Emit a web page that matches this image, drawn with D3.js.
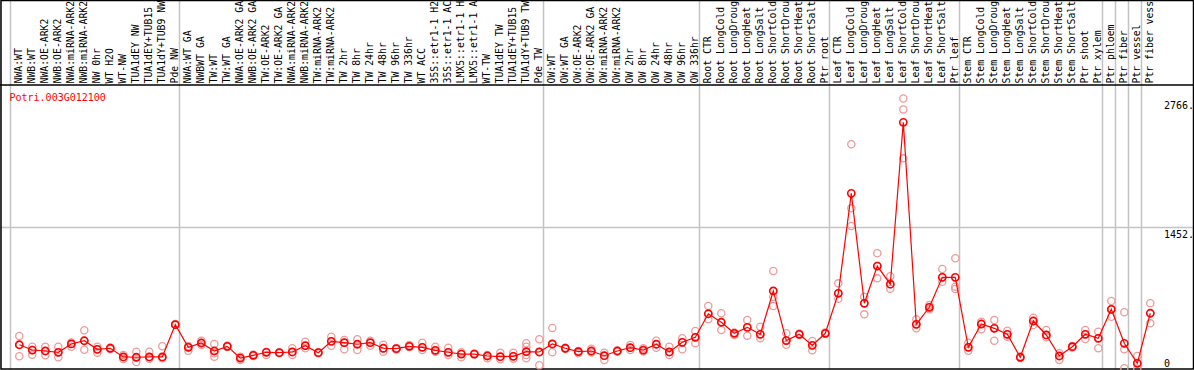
<!DOCTYPE html>
<html>
<head>
<meta charset="utf-8">
<script src="https://cdn.jsdelivr.net/npm/d3@7"></script>
<style>
  body { margin: 0; background: #fff; }
  svg { display: block; }
  text { font-family: "DejaVu Sans Mono", monospace; font-size: 10px; }
</style>
</head>
<body>
<div id="chart"></div>
<script>

// sample names, one per column
var samples = [
	"NWA:WT", "NWB:WT", "NWA:OE-ARK2", "NWB:OE-ARK2", "NWA:miRNA-ARK2", "NWB:miRNA-ARK2",
	"NW 0hr", "WT H2O", "WT-NW", "TUA1dEY NW", "TUA1dEY+TUB15 NW", "TUA1dY+TUB9 NW", "Pde NW",
	"NWA:WT GA", "NWBWT GA", "TW:WT", "TW:WT GA", "NWA:OE-ARK2 GA", "NWB:OE-ARK2 GA",
	"TW:OE-ARK2", "TW:OE-ARK2 GA", "NWA:miRNA-ARK2 GA", "NWB:miRNA-ARK2 GA", "TW:miRNA-ARK2",
	"TW:miRNA-ARK2 GA", "TW 2hr", "TW 8hr", "TW 24hr", "TW 48hr", "TW 96hr", "TW 336hr",
	"WT ACC", "35S::etr1-1 H2O", "35S::etr1-1 ACC", "LMX5::etr1-1 H2O", "LMX5::etr1-1 ACC",
	"WT-TW", "TUA1dEY TW", "TUA1dEY+TUB15 TW", "TUA1dY+TUB9 TW", "Pde TW",
	"OW:WT", "OW:WT GA", "OW:OE-ARK2", "OW:OE-ARK2 GA", "OW:miRNA-ARK2", "OW:miRNA-ARK2 GA",
	"OW 2hr", "OW 8hr", "OW 24hr", "OW 48hr", "OW 96hr", "OW 336hr",
	"Root CTR", "Root LongCold", "Root LongDrought", "Root LongHeat", "Root LongSalt",
	"Root ShortCold", "Root ShortDrought", "Root ShortHeat", "Root ShortSalt", "Ptr root",
	"Leaf CTR", "Leaf LongCold", "Leaf LongDrought", "Leaf LongHeat", "Leaf LongSalt",
	"Leaf ShortCold", "Leaf ShortDrought", "Leaf ShortHeat", "Leaf ShortSalt", "Ptr leaf",
	"Stem CTR", "Stem LongCold", "Stem LongDrought", "Stem LongHeat", "Stem LongSalt",
	"Stem ShortCold", "Stem ShortDrought", "Stem ShortHeat", "Stem ShortSalt", "Ptr shoot",
	"Ptr xylem", "Ptr phloem", "Ptr fiber", "Ptr vessel", "Ptr fiber vessel"
];

// index of the last column of each group (a grey line is drawn after it)
var groupEnds = [-1, 12, 40, 52, 62, 72, 83, 84, 85, 86, 87];

// mean expression per sample
var means = [
	248, 194, 184, 171, 256, 289, 201, 212, 123, 120, 123, 123, 453,
	222, 266, 184, 232, 112, 140, 171, 167, 174, 238, 167, 283, 269, 253, 269, 212, 208,
	232, 222, 191, 171, 153, 153, 133, 126, 130, 177, 174,
	256, 212, 177, 184, 136, 184, 218, 194, 253, 174, 273, 324,
	565, 478, 365, 426, 355, 798, 291, 355, 242, 365,
	774, 1797, 672, 1053, 867, 2523, 457, 631, 938, 938,
	222, 460, 416, 355, 120, 491, 348, 133, 228, 355, 314,
	610, 263, 58, 570
];

// replicate values per sample
var replicates = [
	[337, 245, 130], [228, 194, 146], [228, 184, 140], [228, 171, 120], [271, 256, 228],
	[396, 289, 197], [228, 201, 167], [220, 212, 204], [143, 123, 102], [177, 120, 72],
	[177, 123, 106], [232, 123, 110], [460, 453],
	[235, 222, 187], [289, 266, 245], [256, 161, 126], [240, 232, 225], [126, 112, 92],
	[148, 140, 132], [177, 171, 143], [170, 167, 160], [212, 174, 143], [279, 238, 212],
	[172, 167, 160], [330, 283, 238], [297, 269, 201], [304, 253, 194], [289, 269, 238],
	[248, 212, 177], [214, 208, 200], [245, 232, 225], [269, 222, 194], [228, 191, 177],
	[218, 171, 143], [171, 153, 120], [158, 153, 148], [143, 133, 109], [167, 126, 99],
	[167, 130, 105], [263, 228, 143, 109], [304, 174, 38],
	[419, 256, 171], [218, 212, 205], [184, 177, 161], [208, 184, 170], [167, 136, 92],
	[190, 184, 178], [245, 218, 194], [212, 194, 180], [289, 253, 218], [228, 174, 143],
	[314, 273, 201], [389, 324, 263],
	[644, 565, 508], [570, 478, 399], [372, 365, 348], [501, 426, 341], [433, 355, 314],
	[1002, 739, 644], [365, 291, 248], [362, 355, 348], [286, 242, 191], [372, 365, 358],
	[876, 774, 718], [2298, 1643, 1462], [739, 672, 559], [1183, 1053, 927], [949, 867, 820],
	[2766, 2655, 2154], [508, 457, 416], [654, 631, 610], [1022, 938, 893], [1132, 842, 818],
	[269, 222, 187], [484, 460, 406], [501, 416, 289], [392, 355, 330], [128, 120, 112],
	[525, 491, 450], [399, 348, 324], [161, 133, 92], [235, 228, 220], [399, 355, 307],
	[381, 314, 212],
	[695, 610, 535], [580, 201, 8], [133, 58, 3], [672, 570, 467]
];

var geneName = "Potri.003G012100";
var yTickValues = [0, 1452, 2766];
var yTickLabels = ["0", "1452.", "2766."];
var yMax = 2766;

var width = 1194;
var height = 370;
var headerBottom = 85;
var plotBottom = 369;
var labelChars = 14;	// the header only has room for this many characters

var svg = d3.select("#chart")
	.append("svg")
	.attr("width", width)
	.attr("height", height);

// one band per sample
var x = d3.scaleBand()
	.domain(d3.range(samples.length))
	.range([11, 11 + 13 * samples.length])
	.paddingInner(0);

var y = d3.scaleLinear()
	.domain([0, yMax * 1.05])
	.range([plotBottom, headerBottom]);

var px = function(i) { return x(i) + 8.3; };

// horizontal grid line at the middle tick
svg.append("line")
	.attr("x1", 0).attr("x2", width)
	.attr("y1", Math.round(y(yTickValues[1])) + 0.5)
	.attr("y2", Math.round(y(yTickValues[1])) + 0.5)
	.style("stroke", "#c4c4c4")
	.style("stroke-width", 1.5);

// vertical group separators
svg.selectAll("line.sep")
	.data(groupEnds)
	.enter()
	.append("line")
	.attr("class", "sep")
	.attr("x1", function(d) { return x(d + 1) - 0.5; })
	.attr("x2", function(d) { return x(d + 1) - 0.5; })
	.attr("y1", 0)
	.attr("y2", plotBottom)
	.style("stroke", "#c4c4c4")
	.style("stroke-width", 1.5);

// sample labels, rotated, cut to the header height
svg.selectAll("text.sample")
	.data(samples)
	.enter()
	.append("text")
	.attr("class", "sample")
	.attr("transform", function(d, i) { return "translate(" + (x(i) + 11) + "," + (headerBottom - 1.5) + ") rotate(-90)"; })
	.style("fill", "#000")
	.style("font-size", "9.8px")
	.text(function(d) { return d.slice(0, labelChars); });

// frame and header separator
svg.append("rect")
	.attr("x", 1).attr("y", 0.5)
	.attr("width", width - 1.5).attr("height", plotBottom - 0.5)
	.style("fill", "none")
	.style("stroke", "#000")
	.style("stroke-width", 1.5);

svg.append("line")
	.attr("x1", 0).attr("x2", width)
	.attr("y1", headerBottom).attr("y2", headerBottom)
	.style("stroke", "#000")
	.style("stroke-width", 1.5);

// y axis on the right, labels only
var yAxis = d3.axisRight(y)
	.tickValues(yTickValues)
	.tickSize(0)
	.tickFormat(function(d, i) { return yTickLabels[i]; });

var gAxis = svg.append("g")
	.attr("transform", "translate(1164,0)")
	.call(yAxis);
gAxis.select(".domain").remove();
gAxis.selectAll("text")
	.attr("x", 0)
	.attr("dy", function(d) { return d == 0 ? -3 : 10; })
	.style("font-family", "DejaVu Sans Mono, monospace")
	.style("font-size", "10px")
	.style("fill", "#000");

// gene title
svg.append("text")
	.attr("x", 9.5)
	.attr("y", 101)
	.style("fill", "#ff0000")
	.text(geneName);

// replicate circles
var repPoints = [];
replicates.forEach(function(r, i) {
	r.forEach(function(v) { repPoints.push({ i: i, v: v }); });
});

svg.selectAll("circle.rep")
	.data(repPoints)
	.enter()
	.append("circle")
	.attr("class", "rep")
	.attr("cx", function(d) { return px(d.i); })
	.attr("cy", function(d) { return y(d.v); })
	.attr("r", 3.6)
	.style("fill", "none")
	.style("stroke", "#ee9a9a")
	.style("stroke-width", 1.3);

// mean line
var line = d3.line()
	.x(function(d, i) { return px(i); })
	.y(function(d) { return y(d); });

svg.append("path")
	.datum(means)
	.attr("d", line)
	.style("fill", "none")
	.style("stroke", "#ff0000")
	.style("stroke-width", 1.2);

// mean circles
svg.selectAll("circle.mean")
	.data(means)
	.enter()
	.append("circle")
	.attr("class", "mean")
	.attr("cx", function(d, i) { return px(i); })
	.attr("cy", function(d) { return y(d); })
	.attr("r", 3.6)
	.style("fill", "none")
	.style("stroke", "#ff0000")
	.style("stroke-width", 1.6);

</script>
</body>
</html>
